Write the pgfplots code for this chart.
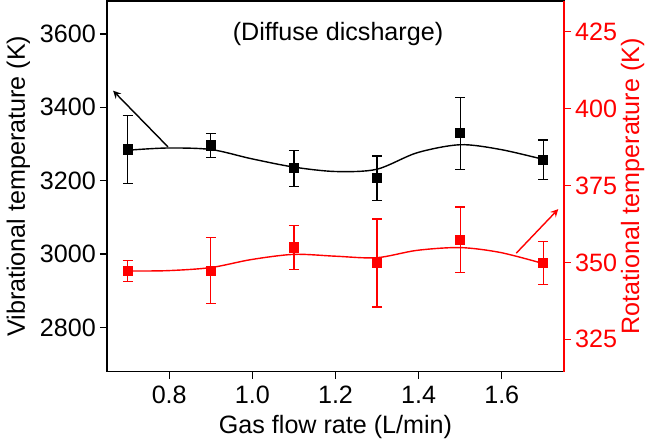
\documentclass[border=0pt]{standalone}
\usepackage{fontspec}
\setmainfont{Liberation Sans}
\usepackage{pgfplots}
\pgfplotsset{compat=1.18}
\begin{document}
\begin{tikzpicture}[font=\fontsize{12.5}{14}\selectfont]
\begin{axis}[
  scale only axis, width=227.5pt, height=184.5pt,
  xmin=0.65, xmax=1.75, ymin=2680, ymax=3690,
  xtick={0.8,1.0,1.2,1.4,1.6},
  ytick={2800,3000,3200,3400,3600},
  xticklabel style={/pgf/number format/.cd,fixed,fixed zerofill,precision=1},
  yticklabel style={xshift=1.5pt,/pgf/number format/.cd,fixed,1000 sep={}},
  /pgf/number format/assume math mode=true,
  xtick pos=left, ytick pos=left,
  tick align=outside, major tick length=3.5pt,
  axis line style={line width=0.8pt},
  tick style={line width=0.7pt, black},
  xlabel={Gas flow rate (L/min)},
  ylabel={Vibrational temperature (K)},
  xlabel style={yshift=1pt},
  ylabel style={yshift=-2pt},
  clip=false,
]
\addplot[black, line width=0.6pt, only marks, mark=square*, mark size=2.25pt,
  error bars/.cd, y dir=both, y explicit,
  error bar style={line width=0.6pt, black},
  error mark options={rotate=90, mark size=2.5pt, line width=0.6pt, black}]
  coordinates {
  (0.7,3285) +- (0,92)
  (0.9,3296) +- (0,32)
  (1.1,3234) +- (0,49)
  (1.3,3207) +- (0,60)
  (1.5,3329) +- (0,98)
  (1.7,3257) +- (0,54)
};
\addplot[black, line width=0.7pt, smooth, no marks] coordinates {
  (0.7,3283) (0.795,3289) (0.9,3285) (0.997,3260) (1.1,3237) (1.2,3225)
  (1.299,3231) (1.396,3276) (1.5,3298) (1.597,3285) (1.7,3258)
};
\draw[-stealth, line width=0.7pt] (axis cs:0.797,3292) -- (axis cs:0.665,3445);
\node[anchor=center] at (axis cs:1.206,3600) {(Diffuse dicsharge)};
\end{axis}
\begin{axis}[
  scale only axis, width=227.5pt, height=184.5pt,
  xmin=0.65, xmax=1.75, ymin=314.5, ymax=435,
  axis x line=none, axis y line*=right,
  ytick={325,350,375,400,425},
  /pgf/number format/assume math mode=true,
  tick align=outside, major tick length=3.5pt,
  y axis line style={red, line width=0.8pt, -},
  tick style={line width=0.7pt, red},
  yticklabel style={red, xshift=-1.5pt},
  ylabel={Rotational temperature (K)},
  ylabel style={red, yshift=5pt},
  clip=false,
]
\addplot[red, line width=0.6pt, only marks, mark=square*, mark size=2.25pt,
  error bars/.cd, y dir=both, y explicit,
  error bar style={line width=0.6pt, red},
  error mark options={rotate=90, mark size=2.5pt, line width=0.6pt, red}]
  coordinates {
  (0.7,347.2) +- (0,3.5)
  (0.9,347.3) +- (0,10.7)
  (1.1,354.8) +- (0,7.1)
  (1.3,349.8) +- (0,14.3)
  (1.5,357.3) +- (0,10.7)
  (1.7,349.8) +- (0,7.0)
};
\addplot[red, line width=0.7pt, smooth, no marks] coordinates {
  (0.7,347.2) (0.795,347.3) (0.9,348.3) (0.997,350.9) (1.1,352.6) (1.2,352.0)
  (1.299,351.5) (1.396,353.9) (1.5,354.8) (1.597,353.2) (1.7,349.6)
};
\draw[-stealth, red, line width=0.7pt] (axis cs:1.635,353) -- (axis cs:1.736,367.3);
\end{axis}
\end{tikzpicture}
\end{document}
